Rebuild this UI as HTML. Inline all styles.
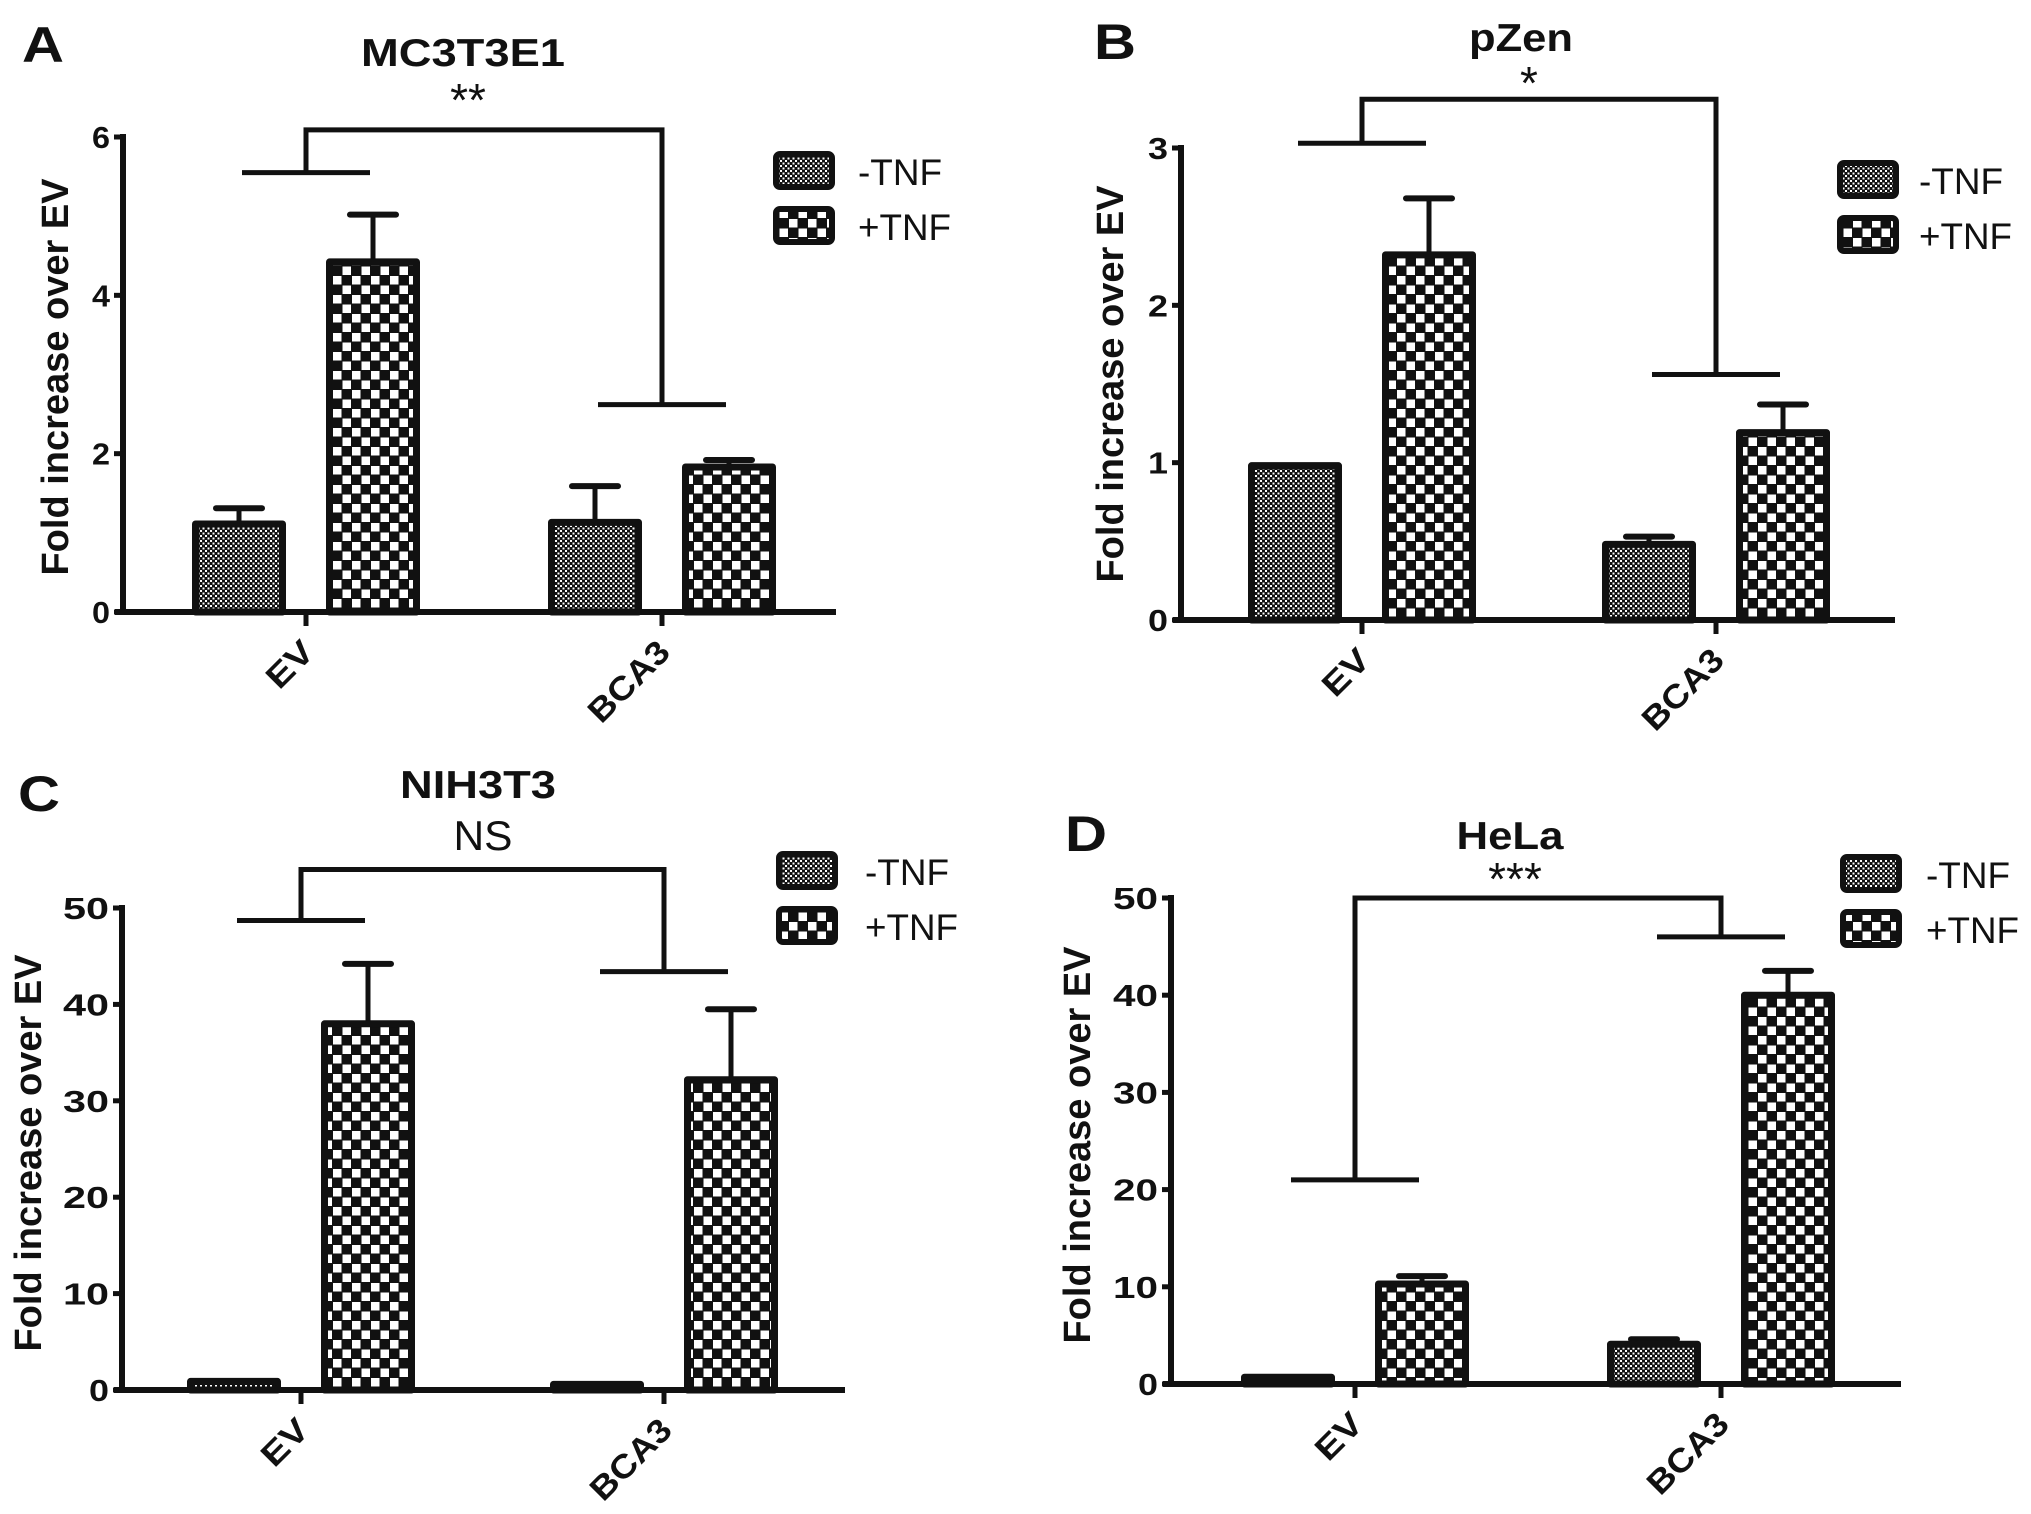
<!DOCTYPE html>
<html><head><meta charset="utf-8"><style>
html,body{margin:0;padding:0;background:#fff;}
svg{display:block;}
text{font-family:"Liberation Sans",Arial,sans-serif;fill:#111;}
</style></head><body>
<svg id="fig" width="2031" height="1514" viewBox="0 0 2031 1514" xmlns="http://www.w3.org/2000/svg">
<defs>
<pattern id="fine" patternUnits="userSpaceOnUse" width="5" height="5">
<rect width="5" height="5" fill="#111"/><rect x="0" y="0" width="2" height="2" fill="#fff"/><rect x="2.5" y="2.5" width="2" height="2" fill="#fff"/>
</pattern>
<pattern id="coarse" patternUnits="userSpaceOnUse" width="19" height="19">
<rect width="19" height="19" fill="#111"/><rect x="0.5" y="0.5" width="8.5" height="8.5" fill="#fff"/><rect x="10" y="10" width="8.5" height="8.5" fill="#fff"/>
</pattern>
</defs>
</svg>
<script>
// ---- data ----
const categories = ["EV", "BCA3"];
const seriesNames = ["-TNF", "+TNF"];
const aMinus = [1.15, 1.17];
const aMinusErr = [1.31, 1.59];
const aPlus = [4.46, 1.87];
const aPlusErr = [5.02, 1.92];
const aTicks = [0, 2, 4, 6];
const aBracket = [5.55, 2.62, 6.09];
const bMinus = [1.0, 0.50];
const bMinusErr = [1.0, 0.53];
const bPlus = [2.34, 1.21];
const bPlusErr = [2.68, 1.37];
const bTicks = [0, 1, 2, 3];
const bBracket = [3.03, 1.56, 3.31];
const cMinus = [1.2, 0.9];
const cMinusErr = [1.2, 0.9];
const cPlus = [38.3, 32.5];
const cPlusErr = [44.2, 39.5];
const cTicks = [0, 10, 20, 30, 40, 50];
const cBracket = [48.7, 43.4, 54.0];
const dMinus = [1.0, 4.4];
const dMinusErr = [1.0, 4.6];
const dPlus = [10.6, 40.3];
const dPlusErr = [11.1, 42.5];
const dTicks = [0, 10, 20, 30, 40, 50];
const dBracket = [21.0, 46.0, 50.0];

const NS = "http://www.w3.org/2000/svg";
const svg = document.getElementById("fig");
function mk(tag, attrs, parent) {
  const el = document.createElementNS(NS, tag);
  for (const k in attrs) el.setAttribute(k, attrs[k]);
  (parent || svg).appendChild(el);
  return el;
}

const panels = [
  {id:"a", letter:"A", title:"MC3T3E1", sig:"**", minus:aMinus, minusErr:aMinusErr, plus:aPlus, plusErr:aPlusErr, ticks:aTicks, bracket:aBracket,
   ax:123, xEnd:836, y0:612, yTop:137, cx:[306,662],
   letterPos:[22,62], titlePos:[463,66,204], sigPos:[468,116,false,40], ylab:[56,377], legX:776, legY:154, legTX:858, tickLen:[18,44]},
  {id:"b", letter:"B", title:"pZen", sig:"*", minus:bMinus, minusErr:bMinusErr, plus:bPlus, plusErr:bPlusErr, ticks:bTicks, bracket:bBracket,
   ax:1181, xEnd:1895, y0:620, yTop:148, cx:[1362,1716],
   letterPos:[1094,59], titlePos:[1521,51,104], sigPos:[1529,99,false,16], ylab:[1111,384], legX:1840, legY:163, legTX:1919, tickLen:[20,44]},
  {id:"c", letter:"C", title:"NIH3T3", sig:"NS", minus:cMinus, minusErr:cMinusErr, plus:cPlus, plusErr:cPlusErr, ticks:cTicks, bracket:cBracket,
   ax:122, xEnd:845, y0:1390, yTop:908, cx:[301,664],
   letterPos:[18,811], titlePos:[478,798,156], sigPos:[483,850,true,59], ylab:[29,1153], legX:779, legY:854, legTX:865, tickLen:[20,46]},
  {id:"d", letter:"D", title:"HeLa", sig:"***", minus:dMinus, minusErr:dMinusErr, plus:dPlus, plusErr:dPlusErr, ticks:dTicks, bracket:dBracket,
   ax:1171, xEnd:1901, y0:1384, yTop:898, cx:[1355,1721],
   letterPos:[1065,851], titlePos:[1510,849,107], sigPos:[1515,895,false,52], ylab:[1078,1145], legX:1843, legY:857, legTX:1926, tickLen:[20,45]}
];

panels.forEach(p => {
  const g = mk("g", {});
  
  
  const maxV = p.ticks[p.ticks.length - 1];
  const Y = v => p.y0 - (v / maxV) * (p.y0 - p.yTop);

  const lt = mk("text", {x:p.letterPos[0], y:p.letterPos[1], "font-size":50, "font-weight":"bold", textLength:42, lengthAdjust:"spacingAndGlyphs"}, g);
  lt.textContent = p.letter;
  
  

  const tt = mk("text", {x:p.titlePos[0], y:p.titlePos[1], "font-size":39, "font-weight":"bold", "text-anchor":"middle", textLength:p.titlePos[2], lengthAdjust:"spacingAndGlyphs"}, g);
  tt.textContent = p.title;
  
  

  const sa = {x:p.sigPos[0], y:p.sigPos[1], "font-size":p.sigPos[2] ? 42 : 46, "text-anchor":"middle"};
  if (p.sigPos[2]) { sa.textLength = p.sigPos[3]; sa.lengthAdjust = "spacingAndGlyphs"; }
  const st = mk("text", sa, g);
  st.textContent = p.sig;
  
  

  const yl = mk("text", {x:p.ylab[0], y:p.ylab[1], "font-size":38, "font-weight":"bold", "text-anchor":"middle", "dominant-baseline":"central", transform:`rotate(-90 ${p.ylab[0]} ${p.ylab[1]})`}, g);
  yl.textContent = "Fold increase over EV";
  
  

  const ya = mk("line", {x1:p.ax, y1:p.y0 + 3, x2:p.ax, y2:p.yTop - 3, stroke:"#111", "stroke-width":6}, g);
  
  
  const xa = mk("line", {x1:p.ax - 8, y1:p.y0, x2:p.xEnd, y2:p.y0, stroke:"#111", "stroke-width":6}, g);
  
  

  p.ticks.forEach(t => {
    const tk = mk("line", {x1:p.ax - 9, y1:Y(t), x2:p.ax, y2:Y(t), stroke:"#111", "stroke-width":5}, g);
    
    
    const s = String(t);
    const tl = mk("text", {x:p.ax - 13, y:Y(t) + 11, "font-size":31, "font-weight":"bold", "text-anchor":"end", textLength:s.length === 1 ? p.tickLen[0] : p.tickLen[1], lengthAdjust:"spacingAndGlyphs"}, g);
    tl.textContent = s;
    
    
  });

  categories.forEach((c, i) => {
    const cx = p.cx[i];
    const ct = mk("line", {x1:cx, y1:p.y0, x2:cx, y2:p.y0 + 14, stroke:"#111", "stroke-width":5}, g);
    
    
    const ax = cx + 10, ay = p.y0 + 42;
    const cl = mk("text", {x:ax, y:ay, "font-size":33, "font-weight":"bold", "text-anchor":"end", textLength:c.length === 2 ? 52 : 100, lengthAdjust:"spacingAndGlyphs", transform:`rotate(-45 ${ax} ${ay})`}, g);
    cl.textContent = c;
    
    

    [[p.minus, p.minusErr, -67, "fine", "minus"], [p.plus, p.plusErr, 67, "coarse", "plus"]].forEach(s => {
      const v = s[0][i], e = s[1][i];
      const bx = cx + s[2];
      const w = 93;
      if (e > v) {
        const el = mk("line", {x1:bx, y1:Y(v), x2:bx, y2:Y(e), stroke:"#111", "stroke-width":5}, g);
        
        
        const ec = mk("line", {x1:bx - 23, y1:Y(e), x2:bx + 23, y2:Y(e), stroke:"#111", "stroke-width":6, "stroke-linecap":"round"}, g);
        
        
      }
      const h = Math.max(p.y0 - Y(v), 2);
      const r = mk("rect", {x:bx - w/2 + 3, y:Y(v) + 3, width:w - 6, height:Math.max(h - 3, 1), fill:`url(#${s[3]})`, stroke:"#111", "stroke-width":7, "stroke-linejoin":"round"}, g);
      
      
    });
  });

  const bl = p.bracket;
  const bw = 64;
  const b1 = mk("line", {x1:p.cx[0] - bw, y1:Y(bl[0]), x2:p.cx[0] + bw, y2:Y(bl[0]), stroke:"#111", "stroke-width":5}, g);
  
  
  const b2 = mk("line", {x1:p.cx[1] - bw, y1:Y(bl[1]), x2:p.cx[1] + bw, y2:Y(bl[1]), stroke:"#111", "stroke-width":5}, g);
  
  
  const b3 = mk("polyline", {points:`${p.cx[0]},${Y(bl[0])} ${p.cx[0]},${Y(bl[2])} ${p.cx[1]},${Y(bl[2])} ${p.cx[1]},${Y(bl[1])}`, fill:"none", stroke:"#111", "stroke-width":5}, g);
  
  

  seriesNames.forEach((n, k) => {
    const ly = p.legY + k * 55;
    const lb = mk("rect", {x:p.legX, y:ly, width:56, height:33, rx:4, fill:k === 0 ? "url(#fine)" : "url(#coarse)", stroke:"#111", "stroke-width":6}, g);
    
    
    const ltx = mk("text", {x:p.legTX, y:ly + 31, "font-size":37, textLength:k === 0 ? 84 : 93, lengthAdjust:"spacingAndGlyphs"}, g);
    ltx.textContent = n;
    
    
  });
});
</script>
</body></html>
